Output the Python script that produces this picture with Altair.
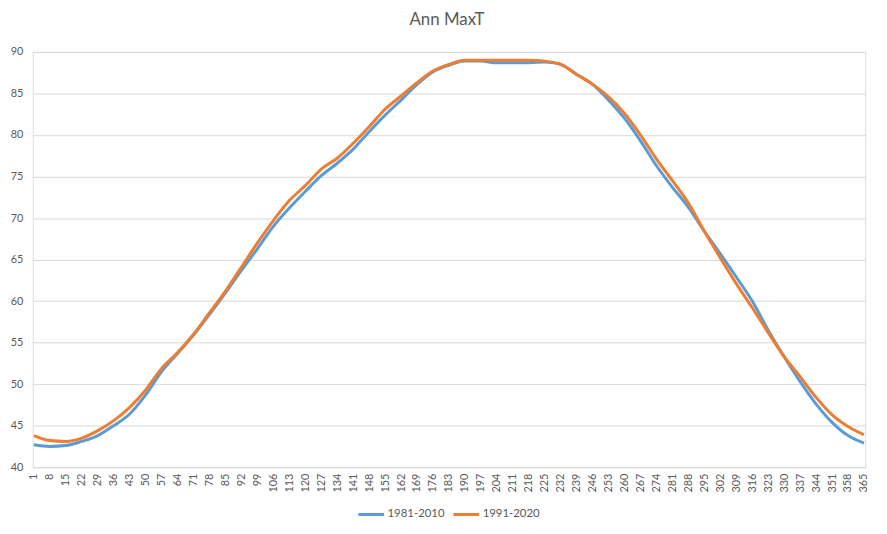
import altair as alt
import pandas as pd

days = [1, 8, 15, 22, 29, 36, 43, 50, 57, 64, 71, 78, 85, 92, 99, 106, 113, 120,
        127, 134, 141, 148, 155, 162, 169, 176, 183, 190, 197, 204, 211, 218, 225,
        232, 239, 246, 253, 260, 267, 274, 281, 288, 295, 302, 309, 316, 323, 330,
        337, 344, 351, 358, 365]

normals_1981_2010 = [42.7, 42.5, 42.6, 43.1, 43.8, 45.0, 46.4, 48.7, 51.5, 53.7,
                     55.9, 58.4, 61.0, 63.7, 66.3, 69.0, 71.2, 73.2, 75.1, 76.6,
                     78.3, 80.4, 82.4, 84.2, 86.1, 87.6, 88.4, 88.9, 88.9, 88.7,
                     88.7, 88.7, 88.8, 88.5, 87.3, 86.1, 84.2, 82.0, 79.3, 76.3,
                     73.7, 71.3, 68.4, 65.7, 62.9, 60.0, 56.5, 53.3, 50.3, 47.6,
                     45.4, 43.8, 42.9]

normals_1991_2020 = [43.8, 43.2, 43.1, 43.5, 44.4, 45.6, 47.2, 49.3, 51.9, 53.8,
                     56.0, 58.6, 61.2, 64.1, 67.0, 69.7, 72.1, 73.9, 75.9, 77.2,
                     79.0, 81.0, 83.1, 84.7, 86.3, 87.7, 88.5, 89.0, 89.0, 89.0,
                     89.0, 89.0, 88.9, 88.5, 87.3, 86.1, 84.6, 82.6, 80.0, 77.1,
                     74.5, 71.8, 68.4, 65.2, 62.1, 59.2, 56.2, 53.3, 50.9, 48.4,
                     46.3, 44.9, 43.9]

series_names = ["1981-2010", "1991-2020"]
series_colors = ["#5B9BD5", "#ED7D31"]
title_text = "Ann MaxT"

rows = []
for name, vals in zip(series_names, [normals_1981_2010, normals_1991_2020]):
    for d, v in zip(days, vals):
        rows.append({"day": d, "temp": v, "series": name})
df = pd.DataFrame(rows)

FONT = "Lato"
TXT = "#595959"

lines = alt.Chart(df).mark_line(strokeWidth=3, interpolate="monotone").encode(
    x=alt.X("day:Q",
            scale=alt.Scale(domain=[0.5, 365.5], nice=False, zero=False),
            axis=alt.Axis(values=days, labelAngle=270, title=None, grid=False,
                          ticks=False, domain=True, domainColor="#d9d9d9",
                          labelColor=TXT, labelFont=FONT, labelFontSize=11,
                          labelPadding=6, labelOverlap=False, labelFlush=False)),
    y=alt.Y("temp:Q",
            scale=alt.Scale(domain=[40, 90], nice=False, zero=False),
            axis=alt.Axis(values=[40, 45, 50, 55, 60, 65, 70, 75, 80, 85, 90],
                          title=None, grid=True, gridColor="#d9d9d9", ticks=False,
                          domain=False, labelColor=TXT, labelFont=FONT,
                          labelFontSize=11, labelPadding=10)),
    color=alt.Color("series:N",
                    scale=alt.Scale(domain=series_names, range=series_colors),
                    legend=alt.Legend(title=None, orient="none", direction="horizontal",
                                      legendX=327, legendY=452, symbolType="stroke",
                                      symbolSize=676, symbolStrokeWidth=3,
                                      labelFont=FONT, labelFontSize=11.5, labelColor=TXT,
                                      labelOffset=2, columnPadding=2, padding=0)),
)

title = alt.Chart(pd.DataFrame({"t": [title_text]})).mark_text(
    font=FONT, fontSize=17, color=TXT, align="center", baseline="alphabetic"
).encode(text="t:N", x=alt.value(418), y=alt.value(-27))

chart = alt.layer(lines, title).properties(
    width=840,
    height=419,
    autosize=alt.AutoSizeParams(type="none"),
    padding={"left": 25, "top": 42, "right": 14, "bottom": 57},
).configure_view(stroke=None).configure(background="white")

chart.save("out.html", embed_options={"renderer": "svg", "actions": False})
